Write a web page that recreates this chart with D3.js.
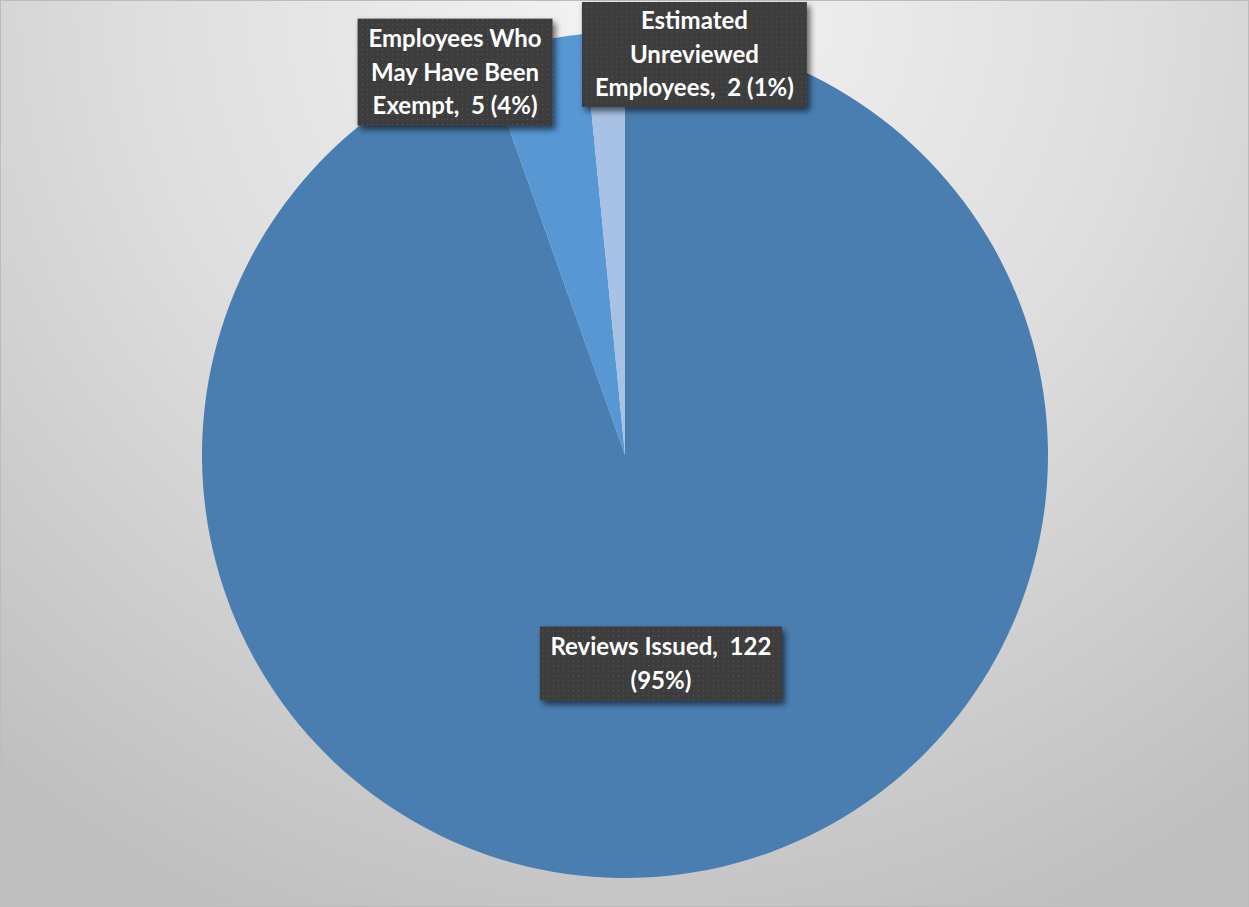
<!DOCTYPE html>
<html>
<head>
<meta charset="utf-8">
<script src="https://cdn.jsdelivr.net/npm/d3@7"></script>
<style>
  html, body { margin: 0; padding: 0; background: #fff; }
  svg { display: block; }
  text { white-space: pre; }
</style>
</head>
<body>
<svg id="chart" width="1249" height="907"></svg>
<script>
// ---- data ----
const categories = ["Reviews Issued", "Employees Who May Have Been Exempt", "Estimated Unreviewed Employees"];
const values = [122, 5, 2];
const percentLabels = ["95%", "4%", "1%"];
const labelLines = [
  ["Reviews Issued,  122", "(95%)"],
  ["Employees Who", "May Have Been", "Exempt,  5 (4%)"],
  ["Estimated", "Unreviewed", "Employees,  2 (1%)"]
];
const sliceColors = ["#4a7eb0", "#5697d4", "#a8c2e5"];

// ---- layout ----
const W = 1249, H = 907;
const cx = 625, cy = 455, R = 423;
const fontSize = 24, lineH = 33.5;
const labelLayout = [
  { mode: "centroid", rFrac: 0.5, dx: 0, dy: 0, w: 242, h: 74 },
  { mode: "outer", dx: -78, dy: 30, w: 195, h: 107 },
  { mode: "outer", dx: 90, dy: 22, w: 225, h: 105 }
];

const svg = d3.select("#chart");
const defs = svg.append("defs");

const bg = defs.append("radialGradient").attr("id", "bg")
  .attr("gradientUnits", "userSpaceOnUse")
  .attr("cx", 640).attr("cy", 0).attr("r", 1000);
bg.append("stop").attr("offset", "0").attr("stop-color", "#f4f4f4");
bg.append("stop").attr("offset", "0.5").attr("stop-color", "#dedede");
bg.append("stop").attr("offset", "1").attr("stop-color", "#bfbfbf");

const pat = defs.append("pattern").attr("id", "dots")
  .attr("patternUnits", "userSpaceOnUse").attr("width", 5).attr("height", 5);
pat.append("rect").attr("width", 5).attr("height", 5).attr("fill", "#3d3d3d");
pat.append("rect").attr("x", 2).attr("y", 2).attr("width", 1).attr("height", 1).attr("fill", "#5c5c5c");

const sh = defs.append("filter").attr("id", "shadow")
  .attr("x", "-20%").attr("y", "-20%").attr("width", "140%").attr("height", "150%");
sh.append("feGaussianBlur").attr("in", "SourceAlpha").attr("stdDeviation", 3).attr("result", "b");
sh.append("feOffset").attr("in", "b").attr("dx", 3).attr("dy", 4).attr("result", "o");
sh.append("feComponentTransfer").attr("in", "o").attr("result", "oo")
  .append("feFuncA").attr("type", "linear").attr("slope", 0.6);
const m = sh.append("feMerge");
m.append("feMergeNode").attr("in", "oo");
m.append("feMergeNode").attr("in", "SourceGraphic");

svg.append("rect").attr("x", 0.5).attr("y", 0.5).attr("width", W - 1).attr("height", H - 1)
  .attr("fill", "url(#bg)").attr("stroke", "#bcbcbc").attr("stroke-width", 1);

const pie = d3.pie().sort(null).value(d => d)(values);
const arc = d3.arc().innerRadius(0).outerRadius(R);

const g = svg.append("g").attr("transform", `translate(${cx},${cy})`);
g.selectAll("path.slice").data(pie).join("path")
  .attr("class", "slice")
  .attr("d", arc)
  .attr("fill", (d, i) => sliceColors[i]);

// labels
const lg = svg.append("g");
pie.forEach((d, i) => {
  const L = labelLayout[i];
  const a = (d.startAngle + d.endAngle) / 2;
  const rr = L.mode === "centroid" ? R * L.rFrac : R;
  const ax = cx + Math.sin(a) * rr + L.dx;
  const ay = cy - Math.cos(a) * rr + L.dy;
  const grp = lg.append("g").attr("transform", `translate(${ax},${ay})`);
  grp.append("rect")
    .attr("x", -L.w / 2).attr("y", -L.h / 2).attr("width", L.w).attr("height", L.h)
    .attr("fill", "url(#dots)").attr("filter", "url(#shadow)");
  const lines = labelLines[i];
  const y0 = -(lines.length - 1) * lineH / 2;
  grp.selectAll("text").data(lines).join("text")
    .attr("x", 0).attr("y", (t, j) => y0 + j * lineH)
    .attr("dy", "0.35em")
    .attr("text-anchor", "middle")
    .attr("fill", "#ffffff")
    .attr("font-family", "Lato, 'Open Sans', sans-serif")
    .attr("font-weight", 700)
    .attr("font-size", fontSize)
    .text(t => t);
});
</script>
</body>
</html>
